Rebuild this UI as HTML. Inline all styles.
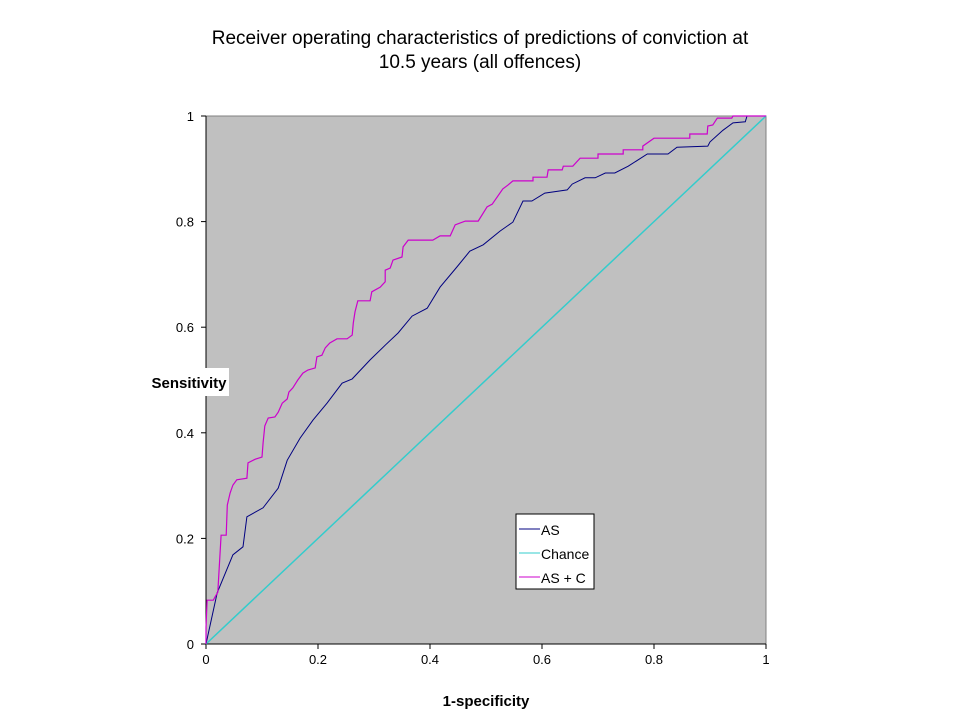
<!DOCTYPE html>
<html><head><meta charset="utf-8"><style>
body{margin:0;background:#fff;}
svg{display:block;font-family:"Liberation Sans",Arial,sans-serif;}
</style></head><body>
<svg id="chart" width="960" height="720" viewBox="0 0 960 720">
<text x="480" y="44" text-anchor="middle" font-size="19">Receiver operating characteristics of predictions of conviction at</text>
<text x="480" y="68" text-anchor="middle" font-size="19">10.5 years (all offences)</text>
<rect x="206" y="116" width="560" height="528" fill="#c0c0c0" stroke="#808080" stroke-width="1"/>
<g id="axes"></g>
<g id="series"></g>
<rect x="150" y="368" width="79" height="28" fill="#fff"/>
<text x="189" y="388" text-anchor="middle" font-size="15" font-weight="bold">Sensitivity</text>
<text x="486" y="706" text-anchor="middle" font-size="15" font-weight="bold">1-specificity</text>
<g>
<rect x="516" y="514" width="78" height="75" fill="#fff" stroke="#000" stroke-width="1"/>
<line x1="519" y1="529" x2="540" y2="529" stroke="#000080"/>
<text x="541" y="535" font-size="14">AS</text>
<line x1="519" y1="553" x2="540" y2="553" stroke="#33cccc"/>
<text x="541" y="559" font-size="14">Chance</text>
<line x1="519" y1="577" x2="540" y2="577" stroke="#cc00cc"/>
<text x="541" y="583" font-size="14">AS + C</text>
</g>
</svg>
<script>
const xTicks=[0,0.2,0.4,0.6,0.8,1];
const yTicks=[0,0.2,0.4,0.6,0.8,1];
const xTickLabels=["0","0.2","0.4","0.6","0.8","1"];
const yTickLabels=["0","0.2","0.4","0.6","0.8","1"];
const asX=[0,0.020,0.048,0.066,0.073,0.102,0.129,0.145,0.168,0.191,0.216,0.243,0.261,0.293,0.320,0.343,0.368,0.395,0.418,0.448,0.471,0.495,0.525,0.548,0.566,0.582,0.605,0.645,0.654,0.677,0.695,0.713,0.730,0.754,0.788,0.825,0.841,0.896,0.900,0.923,0.941,0.963,0.966,1];
const asY=[0,0.097,0.169,0.184,0.241,0.258,0.295,0.348,0.390,0.424,0.456,0.494,0.502,0.538,0.566,0.589,0.621,0.636,0.676,0.714,0.744,0.756,0.782,0.799,0.839,0.839,0.854,0.860,0.871,0.883,0.883,0.892,0.892,0.905,0.928,0.928,0.941,0.943,0.951,0.973,0.987,0.989,1.0,1];
const chanceX=[0,1];
const chanceY=[0,1];
const ascX=[0,0,0.002,0.013,0.016,0.021,0.027,0.036,0.038,0.043,0.048,0.055,0.073,0.075,0.088,0.100,0.102,0.105,0.111,0.123,0.129,0.136,0.145,0.148,0.155,0.164,0.173,0.182,0.195,0.198,0.207,0.213,0.221,0.234,0.252,0.261,0.263,0.266,0.271,0.293,0.296,0.311,0.320,0.320,0.329,0.334,0.350,0.352,0.361,0.405,0.418,0.436,0.445,0.463,0.486,0.502,0.511,0.530,0.539,0.548,0.584,0.584,0.609,0.611,0.636,0.638,0.655,0.668,0.700,0.700,0.745,0.745,0.780,0.780,0.800,0.864,0.864,0.895,0.896,0.905,0.913,0.939,0.941,1];
const ascY=[0,0.032,0.083,0.083,0.089,0.098,0.206,0.206,0.263,0.286,0.301,0.311,0.314,0.343,0.350,0.354,0.381,0.413,0.428,0.430,0.439,0.456,0.464,0.477,0.485,0.500,0.513,0.519,0.523,0.544,0.547,0.561,0.570,0.578,0.578,0.585,0.608,0.629,0.650,0.650,0.667,0.676,0.686,0.708,0.712,0.727,0.733,0.752,0.765,0.765,0.773,0.773,0.794,0.801,0.801,0.828,0.833,0.862,0.869,0.877,0.877,0.884,0.884,0.898,0.898,0.905,0.905,0.920,0.920,0.928,0.928,0.936,0.936,0.943,0.958,0.958,0.966,0.966,0.981,0.983,0.996,0.996,1,1];

const NS="http://www.w3.org/2000/svg";
const X0=206,X1=766,Y0=644,Y1=116;
function sx(v){return X0+v*(X1-X0);}
function sy(v){return Y0-v*(Y0-Y1);}
const axes=document.getElementById('axes');
const series=document.getElementById('series');
function mk(tag,attrs,parent){const e=document.createElementNS(NS,tag);for(const k in attrs)e.setAttribute(k,attrs[k]);parent.appendChild(e);return e;}

const yAxis=mk('line',{x1:X0,y1:Y1,x2:X0,y2:Y0,stroke:'#000'},axes);


const xAxis=mk('line',{x1:X0,y1:Y0,x2:X1,y2:Y0,stroke:'#000'},axes);



xTicks.forEach((v,i)=>{
  const t=mk('line',{x1:sx(v),y1:Y0,x2:sx(v),y2:Y0+5,stroke:'#000'},axes);
  
  
  const l=mk('text',{x:sx(v),y:Y0+20,'text-anchor':'middle','font-size':'13'},axes);
  l.textContent=xTickLabels[i];
  
  
});
yTicks.forEach((v,i)=>{
  const t=mk('line',{x1:X0-5,y1:sy(v),x2:X0,y2:sy(v),stroke:'#000'},axes);
  
  
  const l=mk('text',{x:X0-12,y:sy(v)+5,'text-anchor':'end','font-size':'13'},axes);
  l.textContent=yTickLabels[i];
  
  
});
function pts(xs,ys){return xs.map((x,i)=>sx(x).toFixed(1)+','+sy(ys[i]).toFixed(1)).join(' ');}
const chance=mk('polyline',{points:pts(chanceX,chanceY),fill:'none',stroke:'#33cccc','stroke-width':'1.5'},series);


const asl=mk('polyline',{points:pts(asX,asY),fill:'none',stroke:'#000080','stroke-width':'1'},series);


const ascl=mk('polyline',{points:pts(ascX,ascY),fill:'none',stroke:'#cc00cc','stroke-width':'1.2'},series);


</script>
</body></html>
